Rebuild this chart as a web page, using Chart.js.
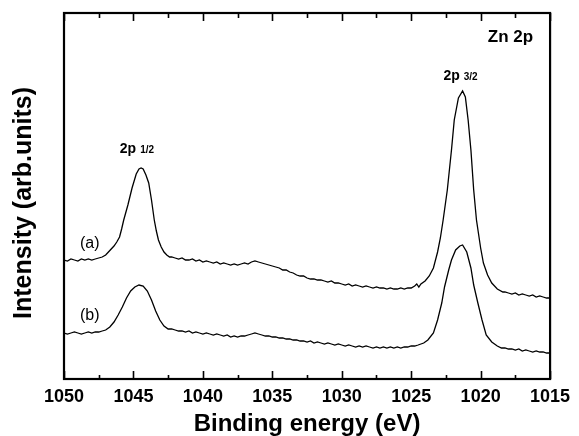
<!DOCTYPE html>
<html>
<head>
<meta charset="utf-8">
<script src="https://cdn.jsdelivr.net/npm/chart.js@4.4.1/dist/chart.umd.min.js"></script>
<style>
  html, body { margin: 0; padding: 0; background: #fff; }
  #xps { display: block; }
</style>
</head>
<body>
<canvas id="xps" width="579" height="436"></canvas>
<script>
// Zn 2p spectra, binding energy (eV) vs intensity (arb. units)
const energyA = [
  1050.00, 1049.75, 1049.50, 1049.25, 1049.00, 1048.75, 1048.50, 1048.25, 1048.00, 1047.75, 1047.50, 1047.25,
  1047.0, 1046.8, 1046.6, 1046.4, 1046.2, 1046.0, 1045.85, 1045.7, 1045.4, 1045.1, 1044.8, 1044.6,
  1044.45, 1044.3, 1044.1, 1043.9, 1043.7, 1043.5, 1043.35, 1043.2, 1043.0, 1042.8, 1042.6, 1042.4,
  1042.25, 1042.00, 1041.75, 1041.50, 1041.25, 1041.00, 1040.75, 1040.50, 1040.25, 1040.00,
  1039.75, 1039.50, 1039.25, 1039.00, 1038.75, 1038.50, 1038.25, 1038.00, 1037.75, 1037.50,
  1037.25, 1037.00, 1036.75, 1036.50, 1036.25, 1036.00, 1035.75, 1035.50, 1035.25, 1035.00,
  1034.75, 1034.50, 1034.25, 1034.00, 1033.75, 1033.50, 1033.25, 1033.00, 1032.75, 1032.50,
  1032.25, 1032.00, 1031.75, 1031.50, 1031.25, 1031.00, 1030.75, 1030.50, 1030.25, 1030.00,
  1029.75, 1029.50, 1029.25, 1029.00, 1028.75, 1028.50, 1028.25, 1028.00, 1027.75, 1027.50,
  1027.25, 1027.00, 1026.75, 1026.50, 1026.25, 1026.00, 1025.75, 1025.50, 1025.25,
  1025.0, 1024.75, 1024.6, 1024.45, 1024.3, 1024.0, 1023.7, 1023.4, 1023.1, 1022.9,
  1022.7, 1022.4, 1022.1, 1021.9, 1021.6, 1021.3, 1021.1, 1020.9, 1020.7, 1020.5,
  1020.3, 1020.0, 1019.8, 1019.5, 1019.2, 1018.8, 1018.4,
  1018.25, 1018.00, 1017.75, 1017.50, 1017.25, 1017.00, 1016.75, 1016.50, 1016.25, 1016.00,
  1015.75, 1015.50, 1015.25, 1015.00];
const intensityA = [
  119, 118, 120, 119, 118, 120, 119, 120, 119, 120, 121, 122,
  124, 127, 130, 133, 137, 142, 150, 159, 174, 191, 205, 210,
  211, 210, 204, 196, 179, 159, 148, 139, 132, 127, 124, 122,
  122, 121, 120, 121, 119, 119, 120, 118, 119, 117,
  118, 117, 116, 117, 115, 116, 115, 114, 115, 114,
  115, 116, 115, 117, 118, 117, 116, 115, 114, 113,
  112, 111, 109, 109, 107, 106, 104, 103, 103, 101,
  100, 100, 99, 99, 98, 97, 98, 96, 96, 95,
  94, 95, 93, 94, 93, 92, 93, 92, 91, 92,
  91, 91, 90, 91, 90, 90, 91, 90, 91,
  91, 93, 95, 92, 95, 98, 103, 111, 127, 141,
  159, 189, 229, 259, 281, 288, 282, 259, 229, 189,
  159, 131, 116, 104, 96, 90, 87,
  87, 86, 85, 86, 84, 85, 84, 83, 84, 82,
  83, 82, 81, 81];

const energyB = [
  1050.00, 1049.75, 1049.50, 1049.25, 1049.00, 1048.75, 1048.50, 1048.25, 1048.00, 1047.75, 1047.50, 1047.25,
  1047.0, 1046.7, 1046.4, 1046.1, 1045.8, 1045.5, 1045.2, 1044.9, 1044.6, 1044.3, 1044.0, 1043.7,
  1043.4, 1043.1, 1042.8, 1042.5,
  1042.25, 1042.00, 1041.75, 1041.50, 1041.25, 1041.00, 1040.75, 1040.50, 1040.25, 1040.00,
  1039.75, 1039.50, 1039.25, 1039.00, 1038.75, 1038.50, 1038.25, 1038.00, 1037.75, 1037.50,
  1037.25, 1037.00, 1036.75, 1036.50, 1036.25, 1036.00, 1035.75, 1035.50, 1035.25, 1035.00,
  1034.75, 1034.50, 1034.25, 1034.00, 1033.75, 1033.50, 1033.25, 1033.00, 1032.75, 1032.50,
  1032.25, 1032.00, 1031.75, 1031.50, 1031.25, 1031.00, 1030.75, 1030.50, 1030.25, 1030.00,
  1029.75, 1029.50, 1029.25, 1029.00, 1028.75, 1028.50, 1028.25, 1028.00, 1027.75, 1027.50,
  1027.25, 1027.00, 1026.75, 1026.50, 1026.25, 1026.00, 1025.75, 1025.50, 1025.25, 1025.00,
  1024.75,
  1024.5, 1024.1, 1023.8, 1023.4, 1023.1, 1022.8, 1022.6, 1022.3, 1022.1, 1021.8,
  1021.5, 1021.3, 1021.0, 1020.7, 1020.5, 1020.2, 1019.9, 1019.6, 1019.2, 1018.8, 1018.5,
  1018.25, 1018.00, 1017.75, 1017.50, 1017.25, 1017.00, 1016.75, 1016.50, 1016.25, 1016.00,
  1015.75, 1015.50, 1015.25, 1015.00];
const intensityB = [
  46, 45, 46, 47, 46, 45, 46, 47, 46, 47, 47, 48,
  49, 52, 57, 64, 72, 81, 88, 92, 94, 93, 88, 79,
  68, 59, 53, 50,
  50, 49, 48, 48, 47, 48, 46, 47, 46, 45,
  46, 45, 44, 45, 44, 43, 44, 42, 43, 42,
  43, 43, 44, 45, 46, 45, 44, 43, 43, 42,
  42, 41, 41, 40, 40, 39, 39, 38, 38, 37,
  38, 36, 37, 36, 35, 36, 35, 34, 35, 34,
  33, 34, 33, 32, 33, 32, 33, 32, 31, 32,
  31, 32, 31, 32, 31, 32, 31, 32, 32, 33,
  33,
  34, 36, 39, 46, 59, 76, 92, 109, 119, 129,
  133, 134, 127, 111, 94, 76, 59, 44, 37, 33, 31,
  31, 30, 30, 29, 30, 28, 29, 28, 27, 28,
  27, 27, 26, 26];

const majorTicks = [1050, 1045, 1040, 1035, 1030, 1025, 1020, 1015];
const minorTicks = [1047.5, 1042.5, 1037.5, 1032.5, 1027.5, 1022.5, 1017.5];

// text labels placed in data units (eV, intensity)
const notes = [
  { main: '2p', sub: '1/2', x: 1044.75, y: 231 },
  { main: '2p', sub: '3/2', x: 1021.45, y: 304 },
  { main: 'Zn 2p', x: 1017.85, y: 342, size: 17 },
  { text: '(a)', x: 1048.15, y: 137 },
  { text: '(b)', x: 1048.15, y: 65 }
];

const FONT = "'Liberation Sans', Arial, sans-serif";

const toPoints = (xs, ys) => xs.map((x, i) => ({ x: x, y: ys[i] }));

const framePlugin = {
  id: 'frame',
  afterDraw(chart) {
    const { ctx, chartArea: a, scales: { x } } = chart;
    ctx.save();
    ctx.strokeStyle = '#000';
    ctx.lineWidth = 1.6;
    majorTicks.forEach(v => {
      const px = Math.round(x.getPixelForValue(v)) + 0.5;
      ctx.beginPath();
      ctx.moveTo(px, a.bottom); ctx.lineTo(px, a.bottom - 8);
      ctx.moveTo(px, a.top); ctx.lineTo(px, a.top + 8);
      ctx.stroke();
    });
    minorTicks.forEach(v => {
      const px = Math.round(x.getPixelForValue(v)) + 0.5;
      ctx.beginPath();
      ctx.moveTo(px, a.bottom); ctx.lineTo(px, a.bottom - 4);
      ctx.moveTo(px, a.top); ctx.lineTo(px, a.top + 5);
      ctx.stroke();
    });
    ctx.lineWidth = 2.2;
    ctx.strokeRect(a.left, a.top, a.right - a.left, a.bottom - a.top);
    ctx.restore();
  }
};

const notesPlugin = {
  id: 'notes',
  afterDatasetsDraw(chart) {
    const { ctx, scales: { x, y } } = chart;
    ctx.save();
    ctx.fillStyle = '#000';
    ctx.textBaseline = 'alphabetic';
    notes.forEach(n => {
      const cx = x.getPixelForValue(n.x);
      const cy = y.getPixelForValue(n.y);
      if (n.text) {
        ctx.font = '16px ' + FONT;
        ctx.textAlign = 'center';
        ctx.fillText(n.text, cx, cy + 6);
        return;
      }
      const mainFont = 'bold ' + (n.size || 14) + 'px ' + FONT;
      const subFont = 'bold 10px ' + FONT;
      ctx.font = mainFont;
      const w1 = ctx.measureText(n.main).width;
      let w2 = 0;
      if (n.sub) { ctx.font = subFont; w2 = ctx.measureText(n.sub).width + 4; }
      const start = cx - (w1 + w2) / 2;
      ctx.textAlign = 'left';
      ctx.font = mainFont;
      ctx.fillText(n.main, start, cy + 5);
      if (n.sub) {
        ctx.font = subFont;
        ctx.fillText(n.sub, start + w1 + 4, cy + 5);
      }
    });
    ctx.restore();
  }
};

const ctx = document.getElementById('xps').getContext('2d');
const xpsChart = new Chart(ctx, {
  type: 'line',
  data: {
    datasets: [{
      label: '(a)',
      data: toPoints(energyA, intensityA),
      borderColor: '#000',
      borderWidth: 1.3,
      pointRadius: 0,
      tension: 0
    }, {
      label: '(b)',
      data: toPoints(energyB, intensityB),
      borderColor: '#000',
      borderWidth: 1.3,
      pointRadius: 0,
      tension: 0
    }]
  },
  options: {
    responsive: false,
    animation: false,
    layout: { padding: { left: 0, right: 22, top: 13, bottom: 0 } },
    plugins: {
      legend: { display: false },
      tooltip: { enabled: false }
    },
    scales: {
      x: {
        type: 'linear',
        reverse: true,
        min: 1015,
        max: 1050,
        grid: { display: false, drawTicks: false },
        border: { display: false },
        ticks: {
          stepSize: 5,
          padding: 8.9,
          color: '#000',
          callback: v => String(v),
          font: { family: FONT, size: 18, weight: 'bold', lineHeight: 1 }
        },
        title: {
          display: true,
          text: 'Binding energy (eV)',
          color: '#000',
          padding: { top: 0, bottom: 2 },
          font: { family: FONT, size: 24, weight: 'bold', lineHeight: 0.8 }
        }
      },
      y: {
        min: 0,
        max: 366,
        grid: { display: false, drawTicks: false },
        border: { display: false },
        ticks: { display: false },
        title: {
          display: true,
          text: 'Intensity (arb.units)  ',
          color: '#000',
          padding: { top: 9, bottom: 25 },
          font: { family: FONT, size: 25, weight: 'bold' }
        }
      }
    }
  },
  plugins: [framePlugin, notesPlugin]
});
</script>
</body>
</html>
